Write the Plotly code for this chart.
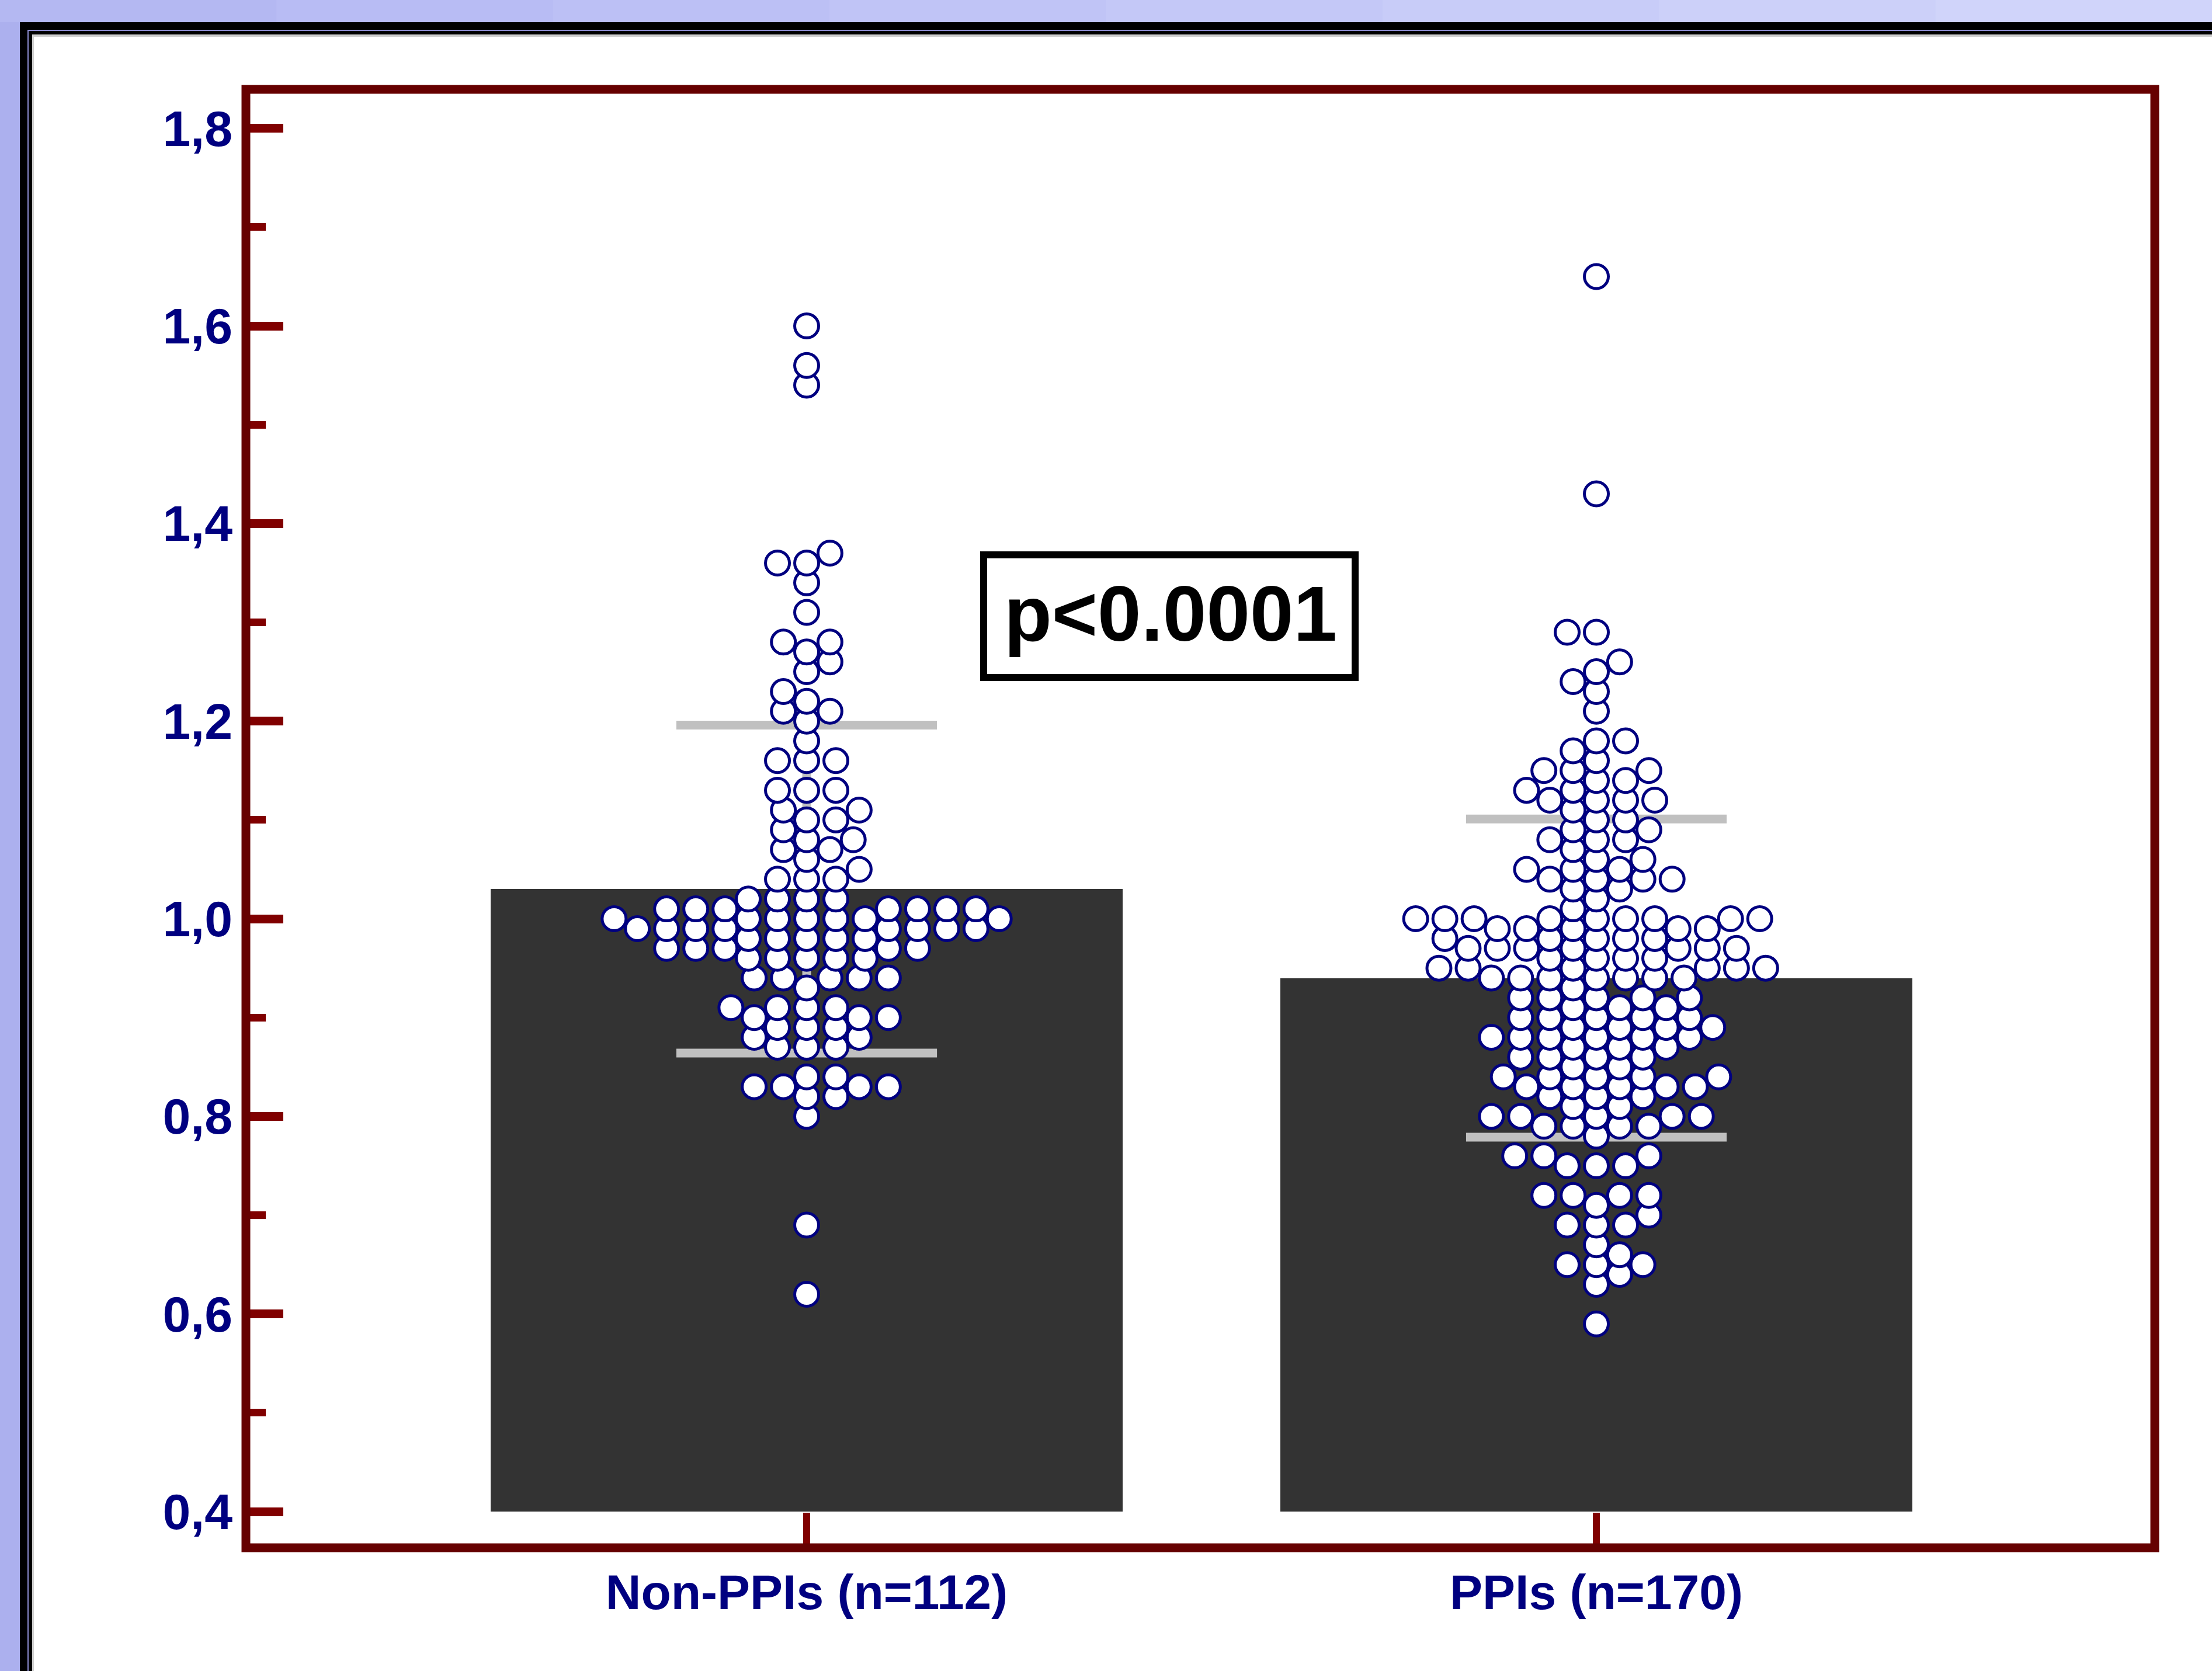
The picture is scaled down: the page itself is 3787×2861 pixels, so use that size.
import numpy as np
import plotly.graph_objects as go

# ---------------- data ----------------
categories = ["Non-PPIs (n=112)", "PPIs (n=170)"]

non_ppi_values = [
    0.62, 0.69, 0.80, 0.82, 0.82, 0.83, 0.83, 0.83, 0.83, 0.84, 0.84,
    0.87, 0.87, 0.87, 0.88, 0.88, 0.89, 0.89, 0.89, 0.90, 0.90, 0.90,
    0.91, 0.91, 0.91, 0.91, 0.93,
    0.94, 0.94, 0.94, 0.94, 0.94,
    0.96, 0.96, 0.96, 0.96, 0.96,
    0.97, 0.97, 0.97, 0.97, 0.97,
    0.98, 0.98, 0.98, 0.98, 0.98,
    0.99, 0.99, 0.99, 0.99, 0.99, 0.99, 0.99, 0.99,
    1.00, 1.00, 1.00, 1.00, 1.00, 1.00, 1.00,
    1.01, 1.01, 1.01, 1.01, 1.01, 1.01, 1.01,
    1.02, 1.02, 1.02, 1.02,
    1.04, 1.04, 1.04, 1.05, 1.06, 1.07, 1.07, 1.08, 1.08, 1.09,
    1.10, 1.10, 1.11, 1.11, 1.13, 1.13, 1.13,
    1.16, 1.16, 1.16, 1.18, 1.20, 1.21, 1.21, 1.22, 1.23,
    1.25, 1.26, 1.27, 1.28, 1.28, 1.31, 1.34, 1.36, 1.36, 1.37,
    1.54, 1.56, 1.60,
]

ppi_values = [
    0.59, 0.63, 0.64, 0.65, 0.65, 0.65, 0.66, 0.67, 0.69, 0.69, 0.69,
    0.70, 0.71, 0.72, 0.72, 0.72, 0.72, 0.75, 0.75, 0.75, 0.76, 0.76, 0.76,
    0.78, 0.79, 0.79, 0.79, 0.79, 0.80, 0.80, 0.80, 0.80, 0.80,
    0.81, 0.81, 0.82, 0.82, 0.82, 0.83, 0.83, 0.83, 0.83, 0.83,
    0.84, 0.84, 0.84, 0.84, 0.84, 0.85, 0.85, 0.86, 0.86, 0.86, 0.86,
    0.87, 0.87, 0.87, 0.88, 0.88, 0.88, 0.88, 0.88, 0.88,
    0.89, 0.89, 0.89, 0.89, 0.90, 0.90, 0.90, 0.90, 0.90,
    0.91, 0.91, 0.91, 0.92, 0.92, 0.92, 0.92, 0.92, 0.93,
    0.94, 0.94, 0.94, 0.94, 0.94, 0.94, 0.94,
    0.95, 0.95, 0.95, 0.95, 0.95, 0.95,
    0.96, 0.96, 0.96, 0.96,
    0.97, 0.97, 0.97, 0.97, 0.97, 0.97, 0.97,
    0.98, 0.98, 0.98, 0.98, 0.98,
    0.99, 0.99, 0.99, 0.99, 0.99,
    1.00, 1.00, 1.00, 1.00, 1.00, 1.00, 1.00, 1.00, 1.00,
    1.01, 1.02, 1.03, 1.03, 1.04, 1.04, 1.04, 1.04,
    1.05, 1.05, 1.05, 1.06, 1.06, 1.07, 1.08, 1.08, 1.08,
    1.09, 1.09, 1.10, 1.10, 1.11, 1.12, 1.12, 1.12, 1.12,
    1.13, 1.13, 1.14, 1.14, 1.15, 1.15, 1.15, 1.16, 1.17, 1.18, 1.18,
    1.21, 1.23, 1.24, 1.25, 1.26, 1.29, 1.29, 1.43, 1.65,
]

group_means = [1.03, 0.94]
group_sds = [0.166, 0.161]
bar_base = 0.4

y_tick_values = [0.4, 0.6, 0.8, 1.0, 1.2, 1.4, 1.6, 1.8]
p_value_text = "p<0.0001"

# ---------------- layout geometry ----------------
W, H = 3787, 2861
ML, MR, MT, MB = 421, 98, 153, 211
PW, PH = W - ML - MR, H - MT - MB
X_RANGE = [-0.7101, 1.7071]
Y_RANGE = [0.3634, 1.8394]
px_per_x = PW / (X_RANGE[1] - X_RANGE[0])
px_per_y = PH / (Y_RANGE[1] - Y_RANGE[0])


def pxx(px):
    return (px - ML) / PW


def pxy(py):
    return (H - MB - py) / PH


def swarm_offsets(values, dx_px=50.0, dy_px=28.0):
    """Beeswarm: place each point (ascending) as close to centre as possible
    without elliptical collision with already placed points."""
    vals = np.asarray(values, dtype=float)
    order = np.argsort(vals, kind="stable")
    placed = []
    out = np.zeros(len(vals))
    flip = 1
    for i in order:
        y = vals[i] * px_per_y
        neigh = [(px, py) for px, py in placed if abs(py - y) < dy_px]
        cands = [0.0]
        for px, py in neigh:
            t = 1.0 - ((py - y) / dy_px) ** 2
            w = dx_px * np.sqrt(max(t, 0.0))
            cands += [px + w, px - w]
        cands.sort(key=lambda c: (round(abs(c), 3), -flip * c))
        chosen = 0.0
        for c in cands:
            ok = all(((c - px) / dx_px) ** 2 + ((py - y) / dy_px) ** 2 >= 1 - 1e-6
                     for px, py in neigh)
            if ok:
                chosen = c
                break
        if chosen != 0:
            flip = -flip
        placed.append((chosen, y))
        out[i] = chosen / px_per_x
    return out


groups = [non_ppi_values, ppi_values]

fig = go.Figure()

# bars (mean)
fig.add_trace(go.Bar(
    x=list(range(len(categories))),
    y=[m - bar_base for m in group_means],
    base=bar_base,
    width=0.8,
    marker=dict(color="#333333", line=dict(width=0)),
    hoverinfo="skip",
))

# mean ± SD lines
half = 0.165
lx, ly = [], []
for i, (m, s) in enumerate(zip(group_means, group_sds)):
    lx += [i - half, i + half, None, i - half, i + half, None, i, i, None]
    ly += [m + s, m + s, None, m - s, m - s, None, m - s, m + s, None]
fig.add_trace(go.Scatter(x=lx, y=ly, mode="lines",
                         line=dict(color="#c0c0c0", width=15),
                         hoverinfo="skip"))

# dots
for i, vals in enumerate(groups):
    offs = swarm_offsets(vals)
    fig.add_trace(go.Scatter(
        x=i + offs, y=vals, mode="markers",
        marker=dict(symbol="circle", size=41, color="white",
                    line=dict(color="#000080", width=5)),
        hoverinfo="skip",
    ))

# ---------------- decoration shapes ----------------
shapes = []
# lavender top band gradient
band_cols = ["#b4b8f2", "#b8bcf4", "#bcc0f5", "#c0c4f6", "#c4c8f7", "#c8ccf8", "#ccd0f9", "#d0d4fa"]
nb = len(band_cols)
for k, col in enumerate(band_cols):
    shapes.append(dict(type="rect", xref="paper", yref="paper",
                       x0=pxx(k * W / nb), x1=pxx((k + 1) * W / nb + 2),
                       y0=pxy(38), y1=pxy(-5), fillcolor=col,
                       line=dict(width=0), layer="below"))
# left strip
shapes.append(dict(type="rect", xref="paper", yref="paper",
                   x0=pxx(-5), x1=pxx(34), y0=pxy(H + 5), y1=pxy(38),
                   fillcolor="#acb0ee", line=dict(width=0), layer="below"))
# black frame
shapes.append(dict(type="rect", xref="paper", yref="paper",
                   x0=pxx(34), x1=pxx(W + 10), y0=pxy(H + 10), y1=pxy(38),
                   fillcolor="black", line=dict(width=0), layer="below"))
# thin light line inside black frame
shapes.append(dict(type="rect", xref="paper", yref="paper",
                   x0=pxx(47), x1=pxx(W + 10), y0=pxy(H + 10), y1=pxy(51),
                   fillcolor="#8c8cd0", line=dict(width=0), layer="below"))
shapes.append(dict(type="rect", xref="paper", yref="paper",
                   x0=pxx(49), x1=pxx(W + 10), y0=pxy(H + 10), y1=pxy(53),
                   fillcolor="black", line=dict(width=0), layer="below"))
# soft shadow then white
shapes.append(dict(type="rect", xref="paper", yref="paper",
                   x0=pxx(55), x1=pxx(W + 10), y0=pxy(H + 10), y1=pxy(59),
                   fillcolor="#cfcfcf", line=dict(width=0), layer="below"))
shapes.append(dict(type="rect", xref="paper", yref="paper",
                   x0=pxx(58), x1=pxx(W + 10), y0=pxy(H + 10), y1=pxy(63),
                   fillcolor="white", line=dict(width=0), layer="below"))
# plot frame
shapes.append(dict(type="rect", xref="paper", yref="paper",
                   x0=0, x1=1, y0=0, y1=1,
                   line=dict(color="#660000", width=15), layer="above"))
# p-value box
shapes.append(dict(type="rect", xref="paper", yref="paper",
                   x0=pxx(1684), x1=pxx(2320), y0=pxy(1160), y1=pxy(950),
                   fillcolor="white", line=dict(color="black", width=12),
                   layer="above"))

fig.update_layout(
    width=W, height=H,
    margin=dict(l=ML, r=MR, t=MT, b=MB, pad=0),
    paper_bgcolor="#b9bdf4",
    plot_bgcolor="white",
    showlegend=False,
    separators=",.",
    shapes=shapes,
    bargap=0,
    template="none",
    annotations=[dict(
        text=p_value_text, xref="paper", yref="paper",
        x=pxx(2004), y=pxy(1050), xanchor="center", yanchor="middle",
        showarrow=False,
        font=dict(family="Liberation Sans, Arial", size=134, color="black",
                  weight="bold"),
    )],
)

fig.update_xaxes(
    range=X_RANGE, showgrid=False, zeroline=False, showline=False,
    tickmode="array", tickvals=list(range(len(categories))), ticktext=categories,
    ticks="inside", ticklen=60, tickwidth=12, tickcolor="#800000",
    ticklabelstandoff=20,
    tickfont=dict(family="Liberation Sans, Arial", size=84, color="#000080",
                  weight="bold"),
)
fig.update_yaxes(
    range=Y_RANGE, showgrid=False, zeroline=False, showline=False,
    tickmode="array", tickvals=y_tick_values, tickformat=".1f",
    ticks="inside", ticklen=64, tickwidth=15, tickcolor="#800000",
    ticklabelstandoff=22,
    minor=dict(ticks="inside", ticklen=34, tickwidth=13, tickcolor="#800000",
               dtick=0.1, tick0=0.4, showgrid=False),
    tickfont=dict(family="Liberation Sans, Arial", size=86, color="#000080",
                  weight="bold"),
)

fig.write_html(
    "out.html",
    config={"displayModeBar": False},
    post_script="document.body.style.margin='0';document.body.style.background='#b9bdf4';",
)
